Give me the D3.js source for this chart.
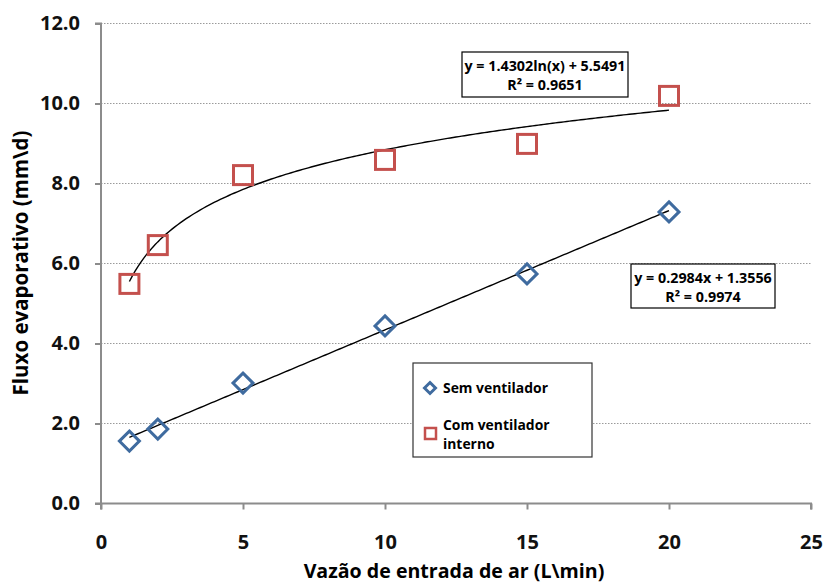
<!DOCTYPE html>
<html><head><meta charset="utf-8">
<script src="https://cdn.jsdelivr.net/npm/d3@7"></script>
<style>
body{margin:0;background:#fff;}
text{font-family:"Open Sans","DejaVu Sans",sans-serif;font-weight:bold;}
</style></head>
<body>
<svg id="chart" width="825" height="583"></svg>
<script>
// Air inlet flow (L/min)
const flows = [1, 2, 5, 10, 15, 20];
// Evaporative flux (mm/d)
const semVentilador = [1.56, 1.86, 3.01, 4.44, 5.74, 7.29];
const comVentilador = [5.49, 6.46, 8.21, 8.59, 8.99, 10.19];
const seriesNames = ["Sem ventilador", "Com ventilador interno"];
const xTicks = [0, 5, 10, 15, 20, 25];
const yTicks = [0, 2, 4, 6, 8, 10, 12];
// trendline coefficients
const linFit = {a: 0.2984, b: 1.3556, r2: 0.9974};
const logFit = {a: 1.4302, b: 5.5491, r2: 0.9651};

const svg = d3.select("#chart");
const x = d3.scaleLinear().domain([0, 25]).range([101, 811]);
const y = d3.scaleLinear().domain([0, 12]).range([503.5, 23.5]);
const blue = "#3f6b9f", red = "#c4504d", axisCol = "#8c8c8c";

// gridlines
svg.append("g").selectAll("line").data(yTicks.filter(d => d > 0)).join("line")
  .attr("x1", x(0)).attr("x2", x(25)).attr("y1", d => y(d)).attr("y2", d => y(d))
  .attr("stroke", "#9a9a9a").attr("stroke-width", 1).attr("stroke-dasharray", "1.5,1.5");

// axes
const xAxis = svg.append("g").attr("transform", `translate(0,${y(0)})`)
  .call(d3.axisBottom(x).tickValues(xTicks).tickFormat(d3.format("d")).tickSize(6).tickPadding(25));
const yAxis = svg.append("g").attr("transform", `translate(${x(0)},0)`)
  .call(d3.axisLeft(y).tickValues(yTicks).tickFormat(d3.format(".1f")).tickSize(6).tickPadding(15));
[xAxis, yAxis].forEach(g => {
  g.select(".domain").attr("stroke", axisCol).attr("stroke-width", 2);
  g.selectAll(".tick line").attr("stroke", axisCol).attr("stroke-width", 2);
  g.selectAll(".tick text").attr("fill", "#111").style("font-size", "20px")
    .style("font-family", "'Open Sans',sans-serif").style("font-weight", "bold");
});
xAxis.select(".domain").attr("d", `M${x(0)},6V0H${x(25)}V6`);
yAxis.select(".domain").attr("d", `M-6,${y(12)}H0V${y(0)}H-6`);

// axis titles
svg.append("text").attr("x", 454).attr("y", 578).attr("text-anchor", "middle")
  .style("font-size", "19.6px").text("Vazão de entrada de ar (L\\min)");
svg.append("text").attr("transform", "translate(28,263) rotate(-90)").attr("text-anchor", "middle")
  .style("font-size", "20.5px").text("Fluxo evaporativo (mm\\d)");

// trendlines
const xs = d3.range(1, 20.001, 0.1);
const line = d3.line().x(d => x(d[0])).y(d => y(d[1]));
svg.append("path").datum(xs.map(v => [v, linFit.a * v + linFit.b]))
  .attr("d", line).attr("fill", "none").attr("stroke", "#000").attr("stroke-width", 1.4);
svg.append("path").datum(xs.map(v => [v, logFit.a * Math.log(v) + logFit.b]))
  .attr("d", line).attr("fill", "none").attr("stroke", "#000").attr("stroke-width", 1.4);

// markers
const diamond = s => `M0,${-s}L${s},0L0,${s}L${-s},0Z`;
svg.append("g").selectAll("path").data(flows.map((f, i) => [f, semVentilador[i]])).join("path")
  .attr("transform", d => `translate(${x(d[0])},${y(d[1])})`)
  .attr("d", diamond(10)).attr("fill", "none").attr("stroke", blue).attr("stroke-width", 3);
svg.append("g").selectAll("rect").data(flows.map((f, i) => [f, comVentilador[i]])).join("rect")
  .attr("x", d => x(d[0]) - 9.5).attr("y", d => y(d[1]) - 9.5).attr("width", 19).attr("height", 19)
  .attr("fill", "none").attr("stroke", red).attr("stroke-width", 3);

// equation labels
function eqBox(x0, y0, w, h, l1, r2) {
  const g = svg.append("g");
  g.append("rect").attr("x", x0).attr("y", y0).attr("width", w).attr("height", h)
    .attr("fill", "#fff").attr("stroke", "#000").attr("stroke-width", 1.2);
  g.append("text").attr("x", x0 + w / 2).attr("y", y0 + 19).attr("text-anchor", "middle")
    .style("font-size", "14.3px").text(l1);
  g.append("text").attr("x", x0 + w / 2).attr("y", y0 + 38).attr("text-anchor", "middle")
    .style("font-size", "14.3px").text("R² = " + r2.toFixed(4));
}
eqBox(462, 52, 166, 45, `y = ${logFit.a.toFixed(4)}ln(x) + ${logFit.b.toFixed(4)}`, logFit.r2);
eqBox(631, 264, 144, 44, `y = ${linFit.a.toFixed(4)}x + ${linFit.b.toFixed(4)}`, linFit.r2);

// legend
const lg = svg.append("g");
lg.append("rect").attr("x", 413).attr("y", 363).attr("width", 179).attr("height", 94)
  .attr("fill", "#fff").attr("stroke", "#333").attr("stroke-width", 1.2);
lg.append("path").attr("transform", "translate(430,388)").attr("d", diamond(5.5))
  .attr("fill", "none").attr("stroke", blue).attr("stroke-width", 3);
lg.append("text").attr("x", 443).attr("y", 393).style("font-size", "13.9px").text(seriesNames[0]);
lg.append("rect").attr("x", 425).attr("y", 428).attr("width", 11).attr("height", 11)
  .attr("fill", "none").attr("stroke", red).attr("stroke-width", 2.5);
const t2 = lg.append("text").attr("x", 443).attr("y", 430).style("font-size", "13.9px");
t2.append("tspan").attr("x", 443).text("Com ventilador");
t2.append("tspan").attr("x", 443).attr("dy", 19).text("interno");
</script>
</body></html>
